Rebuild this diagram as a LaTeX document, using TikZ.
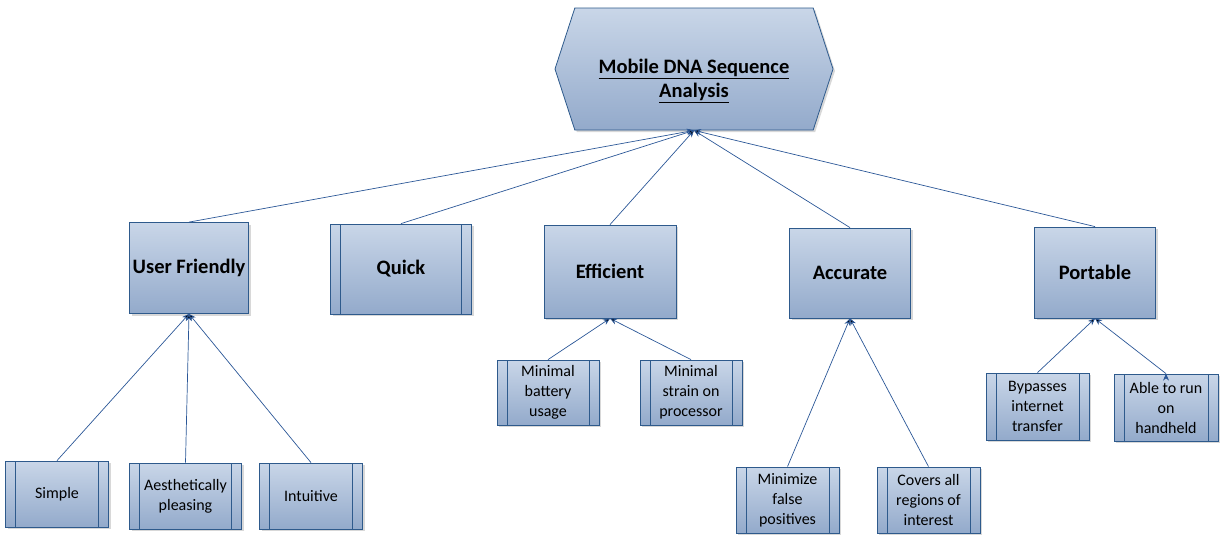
\documentclass[tikz,border=0pt]{standalone}
\usepackage{fontspec}
\setmainfont{Carlito}
\usepackage{tikz}
\usetikzlibrary{arrows.meta,shapes.symbols,shadows}

\definecolor{boxtop}{HTML}{C9D6E8}
\definecolor{boxbot}{HTML}{93AACB}
\definecolor{boxline}{HTML}{2E5A8C}
\definecolor{linkcol}{HTML}{2B5797}

\begin{document}
\begin{tikzpicture}[x=1pt,y=-1pt,
	box/.style={rectangle, draw=boxline, line width=0.8pt, top color=boxtop, bottom color=boxbot,
		drop shadow={shadow xshift=2pt, shadow yshift=-2pt, fill=black!30},
		inner sep=0pt, align=center},
	head/.style={box, font=\fontsize{20.5}{24}\selectfont\bfseries},
	leaf/.style={box, bars, font=\fontsize{16}{20}\selectfont},
	bars/.style={path picture={
			\draw[boxline, line width=0.8pt]
			([xshift=10pt]path picture bounding box.north west) -- ([xshift=10pt]path picture bounding box.south west)
			([xshift=-10pt]path picture bounding box.north east) -- ([xshift=-10pt]path picture bounding box.south east);}},
	link/.style={draw=linkcol, line width=0.7pt, -{Stealth[length=7pt,width=6pt]}}]
	\useasboundingbox (0,0) rectangle (1225,536);

	% goal
	\node[box, shape=signal, signal to=west and east, signal pointer angle=144,
		minimum width=278pt, minimum height=122pt,
		font=\fontsize{20.5}{24}\selectfont\bfseries]
		(top) at (694,69) {\raisebox{0pt}[\dimexpr\height+24pt\relax]{\begin{tabular}{@{}c@{}}\underline{Mobile DNA Sequence}\\\underline{Analysis}\end{tabular}}};

	% requirements
	\node[head, minimum width=119pt, minimum height=91pt] (uf) at (189,268) {User Friendly};
	\node[head, bars, minimum width=141pt, minimum height=90pt] (quick) at (401,269) {Quick};
	\node[head, minimum width=132pt, minimum height=93pt] (eff) at (610,271.5) {Efficient};
	\node[head, minimum width=121pt, minimum height=90pt] (acc) at (850,273) {Accurate};
	\node[head, minimum width=121pt, minimum height=91pt] (port) at (1095,272.5) {Portable};

	% sub requirements
	\node[leaf, minimum width=103pt, minimum height=66pt] (simple) at (57,494) {Simple};
	\node[leaf, minimum width=112pt, minimum height=66pt] (aes) at (185.5,496) {Aesthetically\\pleasing};
	\node[leaf, minimum width=103pt, minimum height=66pt] (intu) at (311,496) {Intuitive};
	\node[leaf, minimum width=102pt, minimum height=65pt] (batt) at (548,392.5) {Minimal\\battery\\usage};
	\node[leaf, minimum width=102pt, minimum height=65pt] (cpu) at (691,392.5) {Minimal\\strain on\\processor};
	\node[leaf, minimum width=103pt, minimum height=66pt] (fpos) at (787.5,500) {Minimize\\false\\positives};
	\node[leaf, minimum width=103pt, minimum height=66pt] (regions) at (928.5,500) {Covers all\\regions of\\interest};
	\node[leaf, minimum width=103pt, minimum height=67pt] (bypass) at (1037.5,406.5) {Bypasses\\internet\\transfer};
	\node[leaf, minimum width=104pt, minimum height=67pt] (hand) at (1166,407.5) {Able to run\\on\\handheld};

	\path[link]
	(uf.north) edge (top.south)
	(quick.north) edge (top.south)
	(eff.north) edge (top.south)
	(acc.north) edge (top.south)
	(port.north) edge (top.south)
	(simple.north) edge (uf.south)
	(aes.north) edge (uf.south)
	(intu.north) edge (uf.south)
	(batt.north) edge (eff.south)
	(cpu.north) edge (eff.south)
	(fpos.north) edge (acc.south)
	(regions.north) edge (acc.south)
	(bypass.north) edge (port.south)
	(hand.north) edge (port.south)
	;
\end{tikzpicture}
\end{document}
